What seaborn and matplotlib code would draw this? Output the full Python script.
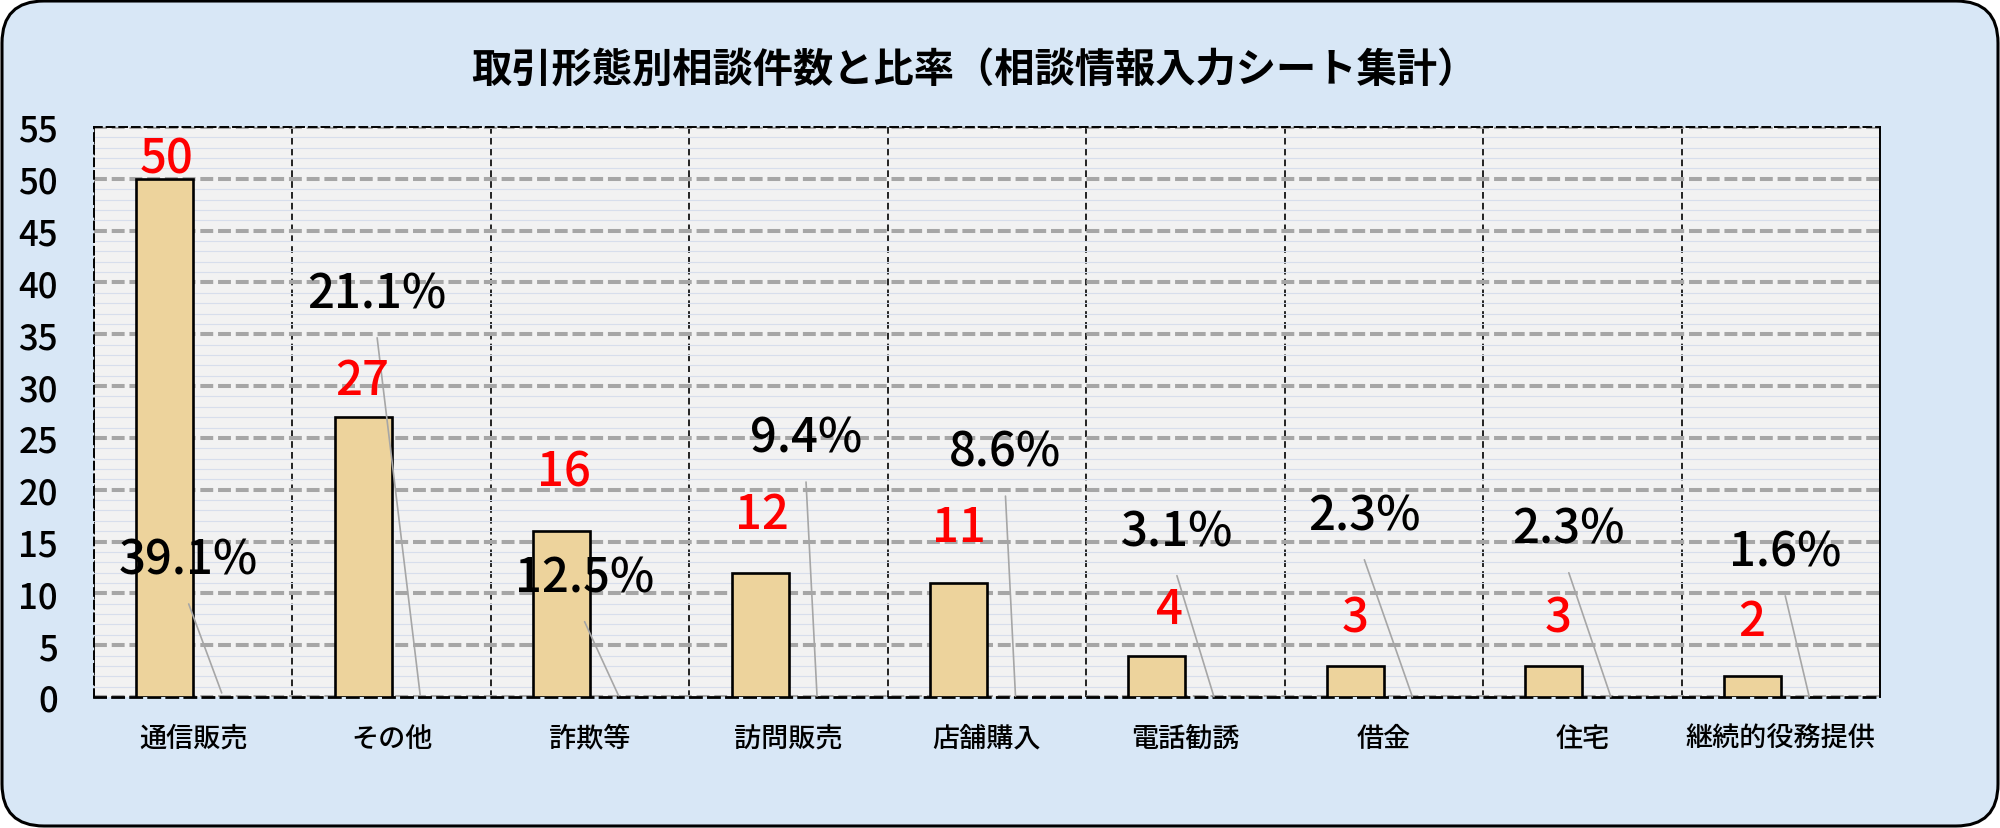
import numpy as np
import pandas as pd
import matplotlib
matplotlib.use("Agg")
import matplotlib.pyplot as plt
import seaborn as sns
from matplotlib.patches import FancyBboxPatch

# ---- data ----
categories = ["通信販売", "その他", "詐欺等", "訪問販売", "店舗購入",
              "電話勧誘", "借金", "住宅", "継続的役務提供"]
counts = [50, 27, 16, 12, 11, 4, 3, 3, 2]
ratios = [39.1, 21.1, 12.5, 9.4, 8.6, 3.1, 2.3, 2.3, 1.6]   # percent
title = "取引形態別相談件数と比率（相談情報入力シート集計）"
y_ticks = list(range(0, 56, 5))

# ---- layout (label offsets in pixels, as placed in the reference) ----
count_offsets = [(2, 20), (-1, 37), (2, 59), (2, 58), (0, 55), (12, 46), (0, 48), (4, 48), (-1, 55)]
pct_offsets = [(-33, 133), (-43, 401), (-34, 118), (-11, 258), (-10, 244),
               (-37, 165), (-48, 181), (-42, 168), (-24, 145)]
leader_gap = 44

sns.set_theme(style="white")
plt.rcParams['font.family'] = ['Noto Sans CJK JP', 'DejaVu Sans']

W, H, DPI = 20.0, 8.29, 100
fig = plt.figure(figsize=(W, H), dpi=DPI, facecolor="white")

# rounded outer frame with light blue background
frame = FancyBboxPatch((0.02, 0.02), W - 0.04, H - 0.04,
                       boxstyle="round,pad=0,rounding_size=0.42",
                       transform=fig.dpi_scale_trans,
                       facecolor="#d8e7f6", edgecolor="black", linewidth=2.2,
                       zorder=-10)
fig.patches.append(frame)

ax = fig.add_axes([94 / 2000, 131 / 829, (1880 - 94) / 2000, (698 - 128) / 829])
ax.set_zorder(1)
ax.set_facecolor("#f2f2f2")

df = pd.DataFrame({
    "category": categories * 2,
    "series": ["件数"] * len(categories) + ["比率"] * len(categories),
    "value": counts + [r / 100 for r in ratios],
})

tan = "#edd39c"
sns.barplot(data=df, x="category", y="value", hue="series",
            palette=[tan, tan], saturation=1, width=0.574, gap=0,
            edgecolor="black", linewidth=1.9, legend=False, ax=ax, zorder=3)

count_bars = ax.containers[0]
pct_bars = ax.containers[1]
for p in pct_bars:
    p.set_alpha(0)

ax.set_xlim(-0.5, len(categories) - 0.5)
ax.set_ylim(0, 55)
ax.set_yticks(y_ticks)
ax.set_yticklabels([str(t) for t in y_ticks], fontsize=25, color="black", fontweight="medium")
ax.set_xticks(range(len(categories)))
ax.set_xticklabels(categories, fontsize=19.5, color="black", fontweight="medium")
ax.set_xlabel("")
ax.set_ylabel("")
ax.tick_params(axis="y", length=0, pad=26)
ax.tick_params(axis="x", length=0, pad=20)

# gridlines
ax.set_yticks(np.arange(0, 55, 1), minor=True)
ax.set_xticks(np.arange(-0.5, len(categories), 1), minor=True)
ax.tick_params(which="minor", length=0)
ax.grid(which="minor", axis="y", color="#d7deec", linewidth=0.8, zorder=0)
ax.grid(which="major", axis="y", color="#a6a6a6", linewidth=2.9,
        linestyle=(0, (3.2, 1.2)), zorder=1)
ax.grid(which="minor", axis="x", color="black", linewidth=1.2,
        linestyle=(0, (4, 2.5)), zorder=2)
ax.grid(which="major", axis="x", visible=False)
ax.set_axisbelow(True)

for name, sp in ax.spines.items():
    sp.set_visible(True)
    sp.set_color("black")
    sp.set_linewidth(1.4)
    if name != "right":
        sp.set_linestyle((0, (4, 2.5)))
ax.spines["bottom"].set_linewidth(2.0)

# count labels (red)
for p, c, (dx, dy) in zip(count_bars, counts, count_offsets):
    x = p.get_x() + p.get_width() / 2
    y = p.get_height()
    ax.annotate(str(c), xy=(x, y), xytext=(dx, dy), textcoords="offset pixels",
                ha="center", va="center", fontsize=34, color="#ff0000",
                fontweight="medium", zorder=5)

# percentage labels with leader lines
for p, r, (dx, dy) in zip(pct_bars, ratios, pct_offsets):
    x = p.get_x() + p.get_width() / 2
    y = p.get_height()
    ax.annotate("", xy=(x, y), xytext=(dx, dy - leader_gap), textcoords="offset pixels",
                arrowprops=dict(arrowstyle="-", color="#a6a6a6", lw=1.2,
                                shrinkA=0, shrinkB=0), zorder=4)
    ax.annotate(f"{r:.1f}%", xy=(x, y), xytext=(dx, dy), textcoords="offset pixels",
                ha="center", va="center", fontsize=34, color="black",
                fontweight="medium", zorder=5)

fig.text(974 / 2000, 1 - 70 / 829, title, ha="center", va="center",
         fontsize=29, fontweight="bold", color="black")

fig.savefig("out.png", dpi=DPI, facecolor=fig.get_facecolor())
